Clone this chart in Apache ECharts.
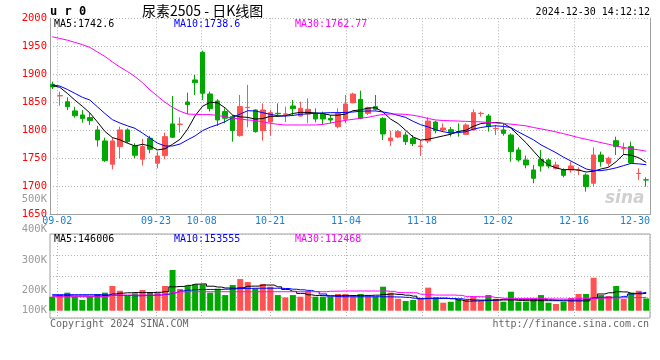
<!DOCTYPE html>
<html><head><meta charset="utf-8">
<script src="https://cdn.jsdelivr.net/npm/echarts@6/dist/echarts.min.js"></script>
<style>html,body{margin:0;padding:0;background:#fff}#c{width:660px;height:360px}</style>
</head><body><div id="c"></div>
<script>
const dates = ['08-30',
 '09-02','09-03','09-04','09-05','09-06','09-09','09-10','09-11','09-12','09-13',
 '09-18','09-19','09-20','09-23','09-24','09-25','09-26','09-27','09-30',
 '10-08','10-09','10-10','10-11','10-14','10-15','10-16','10-17','10-18',
 '10-21','10-22','10-23','10-24','10-25','10-28','10-29','10-30','10-31','11-01',
 '11-04','11-05','11-06','11-07','11-08','11-11','11-12','11-13','11-14','11-15',
 '11-18','11-19','11-20','11-21','11-22','11-25','11-26','11-27','11-28','11-29',
 '12-02','12-03','12-04','12-05','12-06','12-09','12-10','12-11','12-12','12-13',
 '12-16','12-17','12-18','12-19','12-20','12-23','12-24','12-25','12-26','12-27',
 '12-30'];
const dateTicks = ['09-02','09-23','10-08','10-21','11-04','11-18','12-02','12-16','12-30'];

const open = [1882.2,1861.5,1851,1834.6,1827.4,1822.7,1800.7,1781,1739.4,1770.9,
 1800.7,1772.1,1748.3,1785.8,1741.2,1754.8,1811.4,1810.5,1850.6,1889.9,
 1939.3,1864.9,1852.4,1833.4,1824.5,1790.5,1840.5,1836.3,1799.4,1814.8,
 1830.3,1828.7,1843.4,1825.5,1829.1,1830.3,1829.1,1821.4,1806.5,1819.6,
 1849.3,1855.3,1830.3,1842.2,1821.4,1781.5,1788.1,1791.6,1785.1,1771.4,
 1780.9,1814.8,1800.5,1801,1797.8,1792.8,1800.6,1830,1825.6,1803,
 1800.6,1791.6,1764.9,1747,1729.2,1748.2,1747,1732.1,1729.2,1729.2,
 1729,1720.2,1705.4,1755.9,1741.1,1781.5,1767.6,1770.8,1722.8,1711.6];
const close = [1877.4,1862,1842,1826,1820.9,1817.3,1782.8,1745.9,1781,1800.7,
 1779.8,1755.4,1770.9,1766.1,1754.2,1788.7,1787.6,1811,1845.9,1885.1,
 1866.1,1838.7,1818.5,1821.5,1799.5,1842.3,1841,1797.6,1836.3,1831.5,
 1829.5,1829.3,1838.6,1839.2,1837.4,1820.2,1820.2,1818.4,1830.3,1847,
 1864.8,1821.4,1840.4,1837.4,1793.4,1786.3,1797.6,1779.7,1776.2,1772,
 1816.6,1799.4,1804.1,1795,1797.3,1809.5,1831.5,1830.3,1806.5,1803.5,
 1794.6,1761.9,1747,1738.1,1714.3,1736.3,1736.3,1738.1,1719.6,1736.3,
 1729.2,1699.4,1755.9,1744,1750,1770.8,1768.1,1742.2,1723.2,1711.3];
const low = [1873.8,1844,1836,1822.6,1813.7,1809.6,1770.9,1743.5,1730.4,1750.1,
 1776.9,1750.1,1737,1759,1732.2,1748.3,1786.4,1795.9,1829.2,1863.1,
 1854.2,1833.4,1807.8,1812.5,1779.8,1788.7,1805.4,1795.8,1781.5,1789.8,
 1824.3,1814.8,1827.3,1824.3,1812.5,1814.2,1809.5,1812.5,1803.5,1812.5,
 1848.1,1819.6,1827.3,1835.1,1782.7,1772,1785.7,1773.8,1772,1754.1,
 1776.8,1794.6,1797.6,1789,1788.7,1791.6,1799.4,1824.4,1797.6,1791.6,
 1790.4,1744,1744,1732.1,1705.4,1726.2,1732.1,1730.3,1716.1,1724.4,
 1720.2,1690.5,1699.4,1735.1,1735.1,1755.9,1755.9,1739.9,1711.3,1699.4];
const high = [1886.9,1869,1859,1842,1836,1830.4,1807.8,1787,1787,1806.6,
 1803.6,1776.9,1784.6,1790,1762,1795.9,1861.3,1823.3,1867.3,1898.8,
 1942.3,1869.1,1855.4,1839.3,1827.4,1863.1,1881,1837.4,1848.1,1836.3,
 1848.1,1842.2,1854.1,1851.1,1857.1,1839.2,1833.3,1827.3,1839.2,1863,
 1867.2,1870.8,1842.2,1863,1823.2,1799.4,1800.5,1797.6,1791.6,1782.7,
 1823.2,1817.2,1812.5,1806,1812.5,1812.5,1837.5,1833.3,1829.1,1809.5,
 1812.5,1794.6,1769.6,1754.7,1738.1,1764.9,1750,1744,1732.1,1744,
 1734,1723.2,1769.6,1761.9,1753,1788.7,1778,1779.7,1732.1,1716];

const ma5 = [1879.8,1876.8,1866,1854,1843,1831,1815,1798,1787,1783,
 1777,1772,1775,1772,1765,1767,1775,1784,1802,1826,
 1843,1850,1849,1840,1827,1824,1823,1820,1821,1825,
 1825,1826,1830,1832,1832,1831,1830,1827,1827,1829,
 1835,1836.5,1839.5,1840.5,1832.5,1820,1812,1800,1788,1782.5,
 1784,1787,1790,1793,1798,1800,1807,1812,1813.5,1814,
 1812.5,1804,1791,1778,1763,1748,1738,1733,1729.5,1730,
 1729,1725.5,1727,1731,1734,1744,1757,1755.5,1751,1742.6];
const ma10 = [1881,1879,1873,1866,1859,1854,1842,1830,1819,1813,
 1808,1803.5,1795,1786,1777,1772,1772,1775.5,1783,1790,
 1799.5,1805.5,1810,1815.5,1823,1829,1835,1834.5,1831.5,1828.5,
 1826,1825.5,1826.5,1828.5,1829.5,1830.3,1831,1831.5,1831.5,1832,
 1832.7,1834,1834.5,1834.5,1832.7,1830.3,1826.7,1823,1816,1810,
 1806,1801,1797.5,1795,1796,1797.5,1802,1805,1807,1808,
 1807,1805,1797,1790,1783,1774,1767,1760,1752,1745,
 1738,1731,1728,1728,1730,1733,1737,1741,1740,1738.6];
const ma30 = [1967,1964,1961,1957,1953,1948,1940,1932,1922,1913,
 1905,1896,1885,1872,1861,1850,1841,1834,1829,1828.5,
 1828,1828,1826.5,1824,1822,1820,1818.5,1817.5,1815,1812.5,
 1810.7,1809.5,1809.5,1809.5,1809.5,1809.5,1810.5,1813,1815.4,1817.8,
 1819.6,1821.4,1823.2,1826,1828.5,1829,1829,1828.5,1826.7,1824.4,
 1821,1818.5,1817.5,1817,1816.5,1816,1815.5,1815,1814,1813,
 1812,1811,1809.5,1808,1805,1802.5,1800,1797,1794,1790.5,
 1787,1784,1781,1778,1775,1772,1769.5,1767,1765,1762.77];

const volume = [117000,131000,151000,117000,90000,117000,140000,151000,207000,167000,
 123000,145000,173000,151000,151000,207000,341000,182000,207000,220000,
 220000,151000,184000,131000,215000,265000,240000,187000,223000,201000,
 131000,111000,131000,117000,165000,117000,117000,117000,140000,140000,
 117000,140000,117000,117000,201000,151000,100000,81000,90000,103000,
 193000,111000,67000,75000,95000,90000,117000,81000,131000,100000,
 75000,159000,75000,75000,100000,131000,67000,56000,75000,106000,
 140000,140000,276000,131000,123000,207000,98000,151000,167000,103000];
const volMa5 = [124000,124000,124000,123000,123000,122000,123000,126000,140000,147000,
 150000,152000,152000,152000,154000,160000,200000,203000,212000,222000,
 224000,205000,198000,190000,188000,192000,205000,206000,215000,215000,
 200000,178000,162000,145000,133000,128000,126000,125000,126000,127000,
 127000,128000,128000,130000,136000,140000,136000,130000,122000,100000,
 103000,105000,105000,100000,90000,80000,82000,84000,86000,88000,
 90000,90000,86000,84000,84000,84000,84000,84000,83000,82000,
 82000,82000,103000,140000,150000,159000,157000,145000,142000,146006];
const volMa10 = [134000,134000,134000,134000,134000,134000,134000,133000,130000,128000,
 127000,125000,126000,128000,131000,136000,150000,165000,172000,176000,
 178000,178000,178000,180000,183000,186000,187000,188000,188000,188000,
 188000,186000,180000,175000,170000,160000,140000,122000,118000,117000,
 117000,117000,117000,117000,117000,116000,115000,112000,105000,103000,
 103000,103000,103000,102000,100000,95000,90000,89000,89000,92000,
 95000,95000,95000,95000,95000,94000,92000,89000,89000,89000,
 89000,95000,110000,112000,112000,113000,120000,140000,148000,153555];
const volMa30 = [117000,117000,117000,117000,117000,117000,117000,120000,131000,131000,
 131000,131000,131000,131000,131000,140000,152000,158000,159000,159000,
 159000,159000,159000,159000,159000,159000,159000,159000,159000,159000,
 159000,159000,159000,159000,159000,159000,159000,163000,164000,165000,
 165000,165000,165000,165000,165000,162000,152000,151000,150000,138000,
 133000,131000,131000,131000,129000,120000,118000,117000,117000,110000,
 104000,103000,103000,103000,103000,102000,99000,98000,98000,99000,
 103000,104000,104000,105000,106000,107000,108000,109000,110000,112468];

const RED = '#ff5252', GREEN = '#00a800';
const MONO = '"DejaVu Sans Mono", "Liberation Mono", monospace';
const last = a => a[a.length - 1];

const candleData = open.map((o, i) => [o, close[i], low[i], high[i]]);
const volData = volume.map((v, i) => ({value: v, itemStyle: {color: close[i] >= open[i] ? RED : GREEN}}));
const tickDates = dates.slice(1);
const showTick = (idx, val) => dateTicks.indexOf(val) >= 0;
const dotted = {color: '#b4b4b4', type: [1, 2], width: 1};

const MAIN_TOP = 18.3, MAIN_H = 196, VOL_TOP = 234, VOL_H = 84;

const chart = echarts.init(document.getElementById('c'), null, {renderer: 'canvas'});
const hidden = {show: false};
const txt = (x, y, text, color, font, align) => ({
  type: 'text', x, y, z: 100,
  style: {text, fill: color, font, textAlign: align || 'left', align: align || 'left',
          textVerticalAlign: 'middle', verticalAlign: 'middle'}
});

chart.setOption({
  animation: false,
  backgroundColor: '#fff',
  grid: [
    {left: 48.5, right: 10, top: MAIN_TOP, height: MAIN_H},          // 0 candles
    {left: 57.3, right: 10, top: MAIN_TOP, height: MAIN_H},          // 1 date labels/grid
    {left: 50, right: 10, top: MAIN_TOP, height: MAIN_H},            // 2 price axis/frame
    {left: 48.5, right: 10, top: VOL_TOP, height: VOL_H},            // 3 volume bars
    {left: 57.3, right: 10, top: VOL_TOP, height: VOL_H},            // 4 volume date grid
    {left: 50, right: 10, top: VOL_TOP, height: VOL_H, show: true, borderColor: '#a0a0a0', borderWidth: 1}, // 5 frame
    {left: 50, right: 10, top: 199, height: 91.7},                   // 6 vol labels
    {left: 50, right: 10, top: 290.7, height: 19.3}                  // 7 vol label 100K
  ],
  xAxis: [
    {type: 'category', gridIndex: 0, data: dates, show: false},
    {type: 'category', gridIndex: 1, data: tickDates, boundaryGap: false,
     axisLine: hidden, axisTick: hidden,
     axisLabel: {interval: showTick, color: '#1a7fd4', fontFamily: MONO, fontSize: 10, margin: 2, alignMaxLabel: 'right', showMaxLabel: true, showMinLabel: true},
     splitLine: {show: true, interval: showTick, lineStyle: dotted}},
    {type: 'value', gridIndex: 2, axisLine: {show: true, onZero: false, lineStyle: {color: '#a0a0a0'}}, axisTick: hidden, axisLabel: hidden, splitLine: hidden},
    {type: 'category', gridIndex: 3, data: dates, show: false},
    {type: 'category', gridIndex: 4, data: tickDates, boundaryGap: false,
     axisLine: hidden, axisTick: hidden, axisLabel: hidden,
     splitLine: {show: true, interval: showTick, lineStyle: dotted}},
    {type: 'value', gridIndex: 5, show: false},
    {type: 'value', gridIndex: 6, show: false},
    {type: 'value', gridIndex: 7, show: false}
  ],
  yAxis: [
    {type: 'value', gridIndex: 0, min: 1650, max: 2000, show: false},
    {type: 'value', gridIndex: 1, show: false},
    {type: 'value', gridIndex: 2, min: 1650, max: 2000, interval: 50, position: 'left',
     axisLine: {show: true, lineStyle: {color: '#a0a0a0'}}, axisTick: hidden,
     axisLabel: {color: '#ff0000', fontFamily: MONO, fontSize: 10.5, margin: 3, padding: [0, 0, 3, 0], formatter: v => String(v)},
     splitLine: {show: true, lineStyle: dotted}},
    {type: 'value', gridIndex: 2, min: 1650, max: 2000, position: 'right',
     axisLine: {show: true, lineStyle: {color: '#a0a0a0'}}, axisTick: hidden, axisLabel: hidden, splitLine: hidden},
    {type: 'value', gridIndex: 3, min: -61000, max: 642000, show: false},
    {type: 'value', gridIndex: 4, show: false},
    {type: 'value', gridIndex: 5, inverse: true, min: 0, max: 84, interval: 21,
     axisLine: hidden, axisTick: hidden, axisLabel: hidden, splitLine: {show: true, lineStyle: dotted}},
    {type: 'value', gridIndex: 6, min: 200000, max: 500000, interval: 100000,
     axisLine: hidden, axisTick: hidden, splitLine: hidden,
     axisLabel: {color: '#9a9a9a', fontFamily: MONO, fontSize: 10.5, margin: 3, formatter: v => (v / 1000) + 'K'}},
    {type: 'value', gridIndex: 7, min: 100000, max: 200000, interval: 100000,
     axisLine: hidden, axisTick: hidden, splitLine: hidden,
     axisLabel: {color: '#9a9a9a', fontFamily: MONO, fontSize: 10.5, margin: 3, showMaxLabel: false, formatter: v => (v / 1000) + 'K'}}
  ],
  series: [
    {type: 'candlestick', xAxisIndex: 0, yAxisIndex: 0, data: candleData, barWidth: 5, z: 3,
     itemStyle: {color: RED, color0: GREEN, borderColor: RED, borderColor0: GREEN, borderWidth: 1}},
    {type: 'line', xAxisIndex: 0, yAxisIndex: 0, data: ma5, symbol: 'none', z: 4, lineStyle: {color: '#000', width: 1}},
    {type: 'line', xAxisIndex: 0, yAxisIndex: 0, data: ma10, symbol: 'none', z: 4, lineStyle: {color: '#0000ff', width: 1}},
    {type: 'line', xAxisIndex: 0, yAxisIndex: 0, data: ma30, symbol: 'none', z: 4, lineStyle: {color: '#ff00ff', width: 1}},
    {type: 'bar', xAxisIndex: 3, yAxisIndex: 4, data: volData, barWidth: 6, z: 3},
    {type: 'line', xAxisIndex: 3, yAxisIndex: 4, data: volMa5, symbol: 'none', step: 'middle', z: 4, lineStyle: {color: '#000', width: 1}},
    {type: 'line', xAxisIndex: 3, yAxisIndex: 4, data: volMa10, symbol: 'none', step: 'middle', z: 4, lineStyle: {color: '#0000ff', width: 1}},
    {type: 'line', xAxisIndex: 3, yAxisIndex: 4, data: volMa30, symbol: 'none', step: 'middle', z: 4, lineStyle: {color: '#ff00ff', width: 1}}
  ],
  graphic: [
    txt(50, 12, 'u r 0', '#000', 'bold 12px ' + MONO),
    txt(142, 11, '尿素2505 - 日K线图', '#000', '14px "Noto Sans CJK SC"'),
    txt(650, 12, '2024-12-30 14:12:12', '#000', '10px ' + MONO, 'right'),
    txt(54, 24, 'MA5:' + last(ma5), '#000', '10px ' + MONO),
    txt(174, 24, 'MA10:' + last(ma10), '#0000ff', '10px ' + MONO),
    txt(295, 24, 'MA30:' + last(ma30), '#ff00ff', '10px ' + MONO),
    txt(54, 239, 'MA5:' + last(volMa5), '#000', '10px ' + MONO),
    txt(174, 239, 'MA10:' + last(volMa10), '#0000ff', '10px ' + MONO),
    txt(295, 239, 'MA30:' + last(volMa30), '#ff00ff', '10px ' + MONO),
    txt(50, 324, 'Copyright 2024 SINA.COM', '#666', '10px ' + MONO),
    txt(649, 324, 'http://finance.sina.com.cn', '#666', '10px ' + MONO, 'right'),
    txt(605, 199, 'sina', 'rgba(170,170,170,0.55)', 'italic bold 17px "DejaVu Sans"')
  ]
});
</script></body></html>
